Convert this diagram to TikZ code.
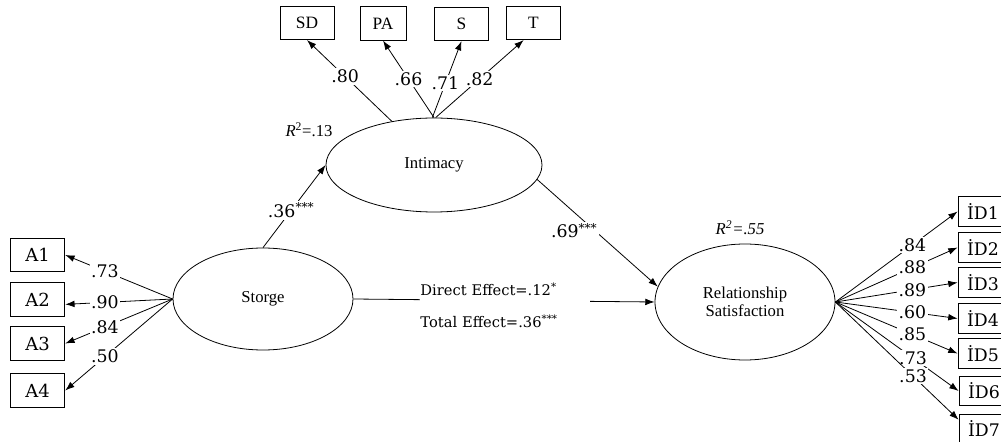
\documentclass[tikz,border=0pt]{standalone}
\usepackage{fontspec}
\setmainfont{Liberation Serif}
\newfontfamily\numfont{DejaVu Serif}
\usetikzlibrary{shapes.geometric, arrows.meta}
\tikzset{
  latent/.style={ellipse, draw, line width=0.6pt, inner sep=0pt,
    align=center, font=\fontsize{12.5}{13.5}\selectfont},
  indbox/.style={rectangle, draw, line width=0.6pt, inner sep=0pt,
    minimum height=25pt, font=\fontsize{13}{15}\selectfont},
  itembox/.style={indbox, minimum width=41pt, font=\numfont\fontsize{13.5}{15}\selectfont},
  satbox/.style={indbox, minimum width=37.5pt, minimum height=22pt,
    font=\numfont\fontsize{13}{15}\selectfont},
  arrow/.style={-{Latex[length=7pt, width=5pt]}, line width=0.6pt},
  coef/.style={fill=white, inner sep=1.2pt, font=\numfont\fontsize{13}{15}\selectfont}
}

\begin{document}
\begin{tikzpicture}[x=0.75pt, y=-0.75pt,
  effect/.style={fill=white, align=left, text width=127.5pt, inner xsep=0pt,
    inner ysep=2pt, anchor=west, font=\numfont\fontsize{11}{24}\selectfont},
  rsq/.style={font=\fontsize{12.5}{14}\selectfont}]
  \useasboundingbox (0,0) rectangle (1001,442);
  \clip (0,0) rectangle (1001,442);

  % latent variables
  \node[latent, minimum width=135pt, minimum height=76.5pt] (sto) at (263,299) {Storge};
  \node[latent, minimum width=162pt, minimum height=70.5pt] (int) at (434,165) {Intimacy};
  \node[latent, minimum width=135pt, minimum height=87pt] (rs) at (745,302) {Relationship\\Satisfaction};

  \node[rsq] (r2int) at (309,130) {\textit{R}\textsuperscript{2}=.13};
  \node[rsq] (r2rs) at (740,228) {\itshape R\textsuperscript{2}=.55};

  % intimacy indicators
  \node[indbox, minimum width=40.5pt] (sd) at (307,23) {SD};
  \node[indbox, minimum width=34.5pt] (pa) at (383,23.5) {PA};
  \node[indbox, minimum width=41pt] (s) at (461.5,24) {S};
  \node[indbox, minimum width=41pt] (t) at (533.5,23) {T};

  \draw[arrow] (int.134) -- node[coef, pos=0.55] {.80} (sd.south);
  \draw[arrow] (int.north) -- node[coef] {.66} (pa.south);
  \draw[arrow] (int.92) -- node[coef, pos=0.45] {.71} (s.south);
  \draw[arrow] (int.88) -- node[coef] {.82} (t.240);

  % storge items
  \node[itembox] (a1) at (37.5,255) {A1};
  \node[itembox] (a2) at (37.5,299.5) {A2};
  \node[itembox] (a3) at (37.5,343.5) {A3};
  \node[itembox] (a4) at (37.5,390.5) {A4};

  \draw[arrow] (sto.west) -- node[coef, pos=0.63] {.73} (a1.east);
  \draw[arrow] (sto.west) -- node[coef, pos=0.63] {.90} (a2.-10);
  \draw[arrow] (sto.west) -- node[coef, pos=0.63] {.84} (a3.east);
  \draw[arrow] (sto.west) -- node[coef, pos=0.63] {.50} (a4.east);

  % satisfaction items
  \node[satbox] (id1) at (983,211.5) {İD1};
  \node[satbox] (id2) at (983,247.5) {İD2};
  \node[satbox] (id3) at (983,282.5) {İD3};
  \node[satbox] (id4) at (983,318.5) {İD4};
  \node[satbox] (id5) at (983,353.5) {İD5};
  \node[satbox] (id6) at (984,391) {İD6};
  \node[satbox] (id7) at (984,429) {İD7};

  \draw[arrow] (rs.east) -- node[coef, pos=0.63] {.84} (id1.west);
  \draw[arrow] (rs.east) -- node[coef, pos=0.63] {.88} (id2.west);
  \draw[arrow] (rs.east) -- node[coef, pos=0.63] {.89} (id3.west);
  \draw[arrow] (rs.east) -- node[coef, pos=0.63] {.60} (id4.west);
  \draw[arrow] (rs.east) -- node[coef, pos=0.63] {.85} (id5.west);
  \draw[arrow] (rs.east) -- node[coef, pos=0.63] {.73} (id6.west);
  \draw[arrow] (rs.east) -- node[coef, pos=0.63] {.53} (id7.160);

  % structural paths
  \draw[arrow] (sto.north) -- node[coef, pos=0.45] {.36\textsuperscript{***}} (int.west);
  \draw[arrow] (int.-8) -- node[coef, pos=0.44, xshift=-12pt, yshift=-3pt] {.69\textsuperscript{***}} (rs.170);
  \draw[arrow] (sto.east) -- (rs.west)
    node[effect] (eff) at (420,305) {Direct Effect=.12\textsuperscript{*}\\Total Effect=.36\textsuperscript{***}};
\end{tikzpicture}
\end{document}
